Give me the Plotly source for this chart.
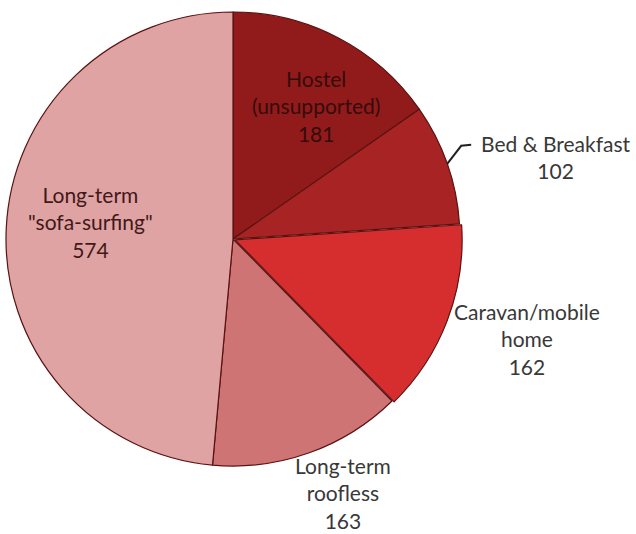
import math
import plotly.graph_objects as go

# Housing situation counts
labels = ["Hostel<br>(unsupported)", "Bed & Breakfast", "Caravan/mobile<br>home",
          "Long-term<br>roofless", "Long-term<br>\"sofa-surfing\""]
values = [181, 102, 162, 163, 574]
colors = ["#911b1b", "#a82323", "#d62e2e", "#cf7474", "#dfa3a3"]
pulls = [0, 0, 0.01, 0, 0]

W, H = 636, 534
CX, CY, R = 233, 239, 227          # pie centre and radius in pixels
half = R * (1 + max(pulls))

fig = go.Figure(go.Pie(
    labels=labels,
    values=values,
    sort=False,
    direction="clockwise",
    rotation=0,
    pull=pulls,
    textinfo="none",
    hoverinfo="label+value",
    marker=dict(colors=colors, line=dict(color="#5a1212", width=1.2)),
    domain=dict(x=[(CX - half) / W, (CX + half) / W],
                y=[1 - (CY + half) / H, 1 - (CY - half) / H]),
    showlegend=False,
))

# label anchor positions (pixels) and text colour per slice
label_pos = [(316, 106), (556, 157), (527, 339), (343, 493), (90, 222)]
label_col = ["#350b0b", "#383838", "#383838", "#383838", "#421818"]

for lab, val, (px, py), col in zip(labels, values, label_pos, label_col):
    fig.add_annotation(
        x=px / W, y=1 - py / H, xref="paper", yref="paper",
        text=f"{lab}<br>{val}", showarrow=False,
        font=dict(family="Lato", size=21, color=col),
        align="center", xanchor="center", yanchor="middle",
    )

# leader line for the Bed & Breakfast slice, from its mid-angle edge point
total = sum(values)
mid = (values[0] + values[1] / 2) / total * 2 * math.pi
ex, ey = CX + R * math.sin(mid), CY - R * math.cos(mid)
path = f"M {ex/W} {1-ey/H} L {(ex+14)/W} {1-(ey-18)/H} L {(ex+24)/W} {1-(ey-19)/H}"
fig.add_shape(type="path", xref="paper", yref="paper", path=path,
              line=dict(color="#222222", width=2))

fig.update_layout(
    width=W, height=H,
    margin=dict(l=0, r=0, t=0, b=0),
    paper_bgcolor="white", plot_bgcolor="white",
)

fig.write_html("out.html")
